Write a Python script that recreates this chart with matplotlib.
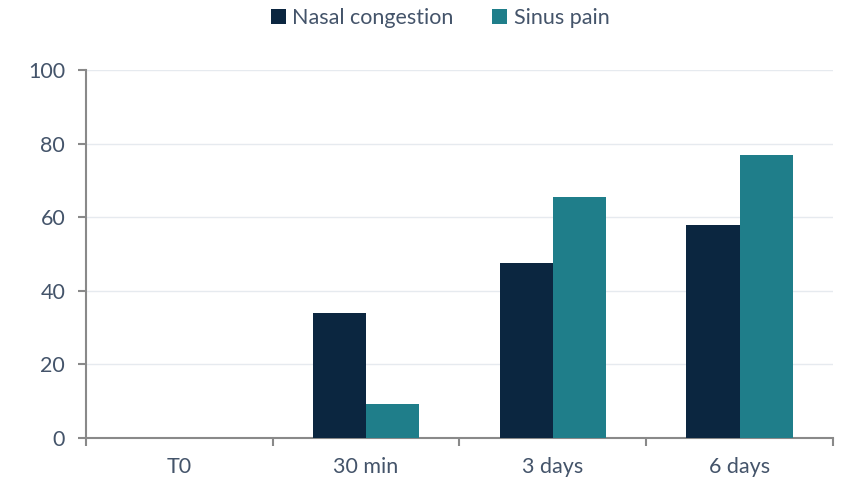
import numpy as np
import matplotlib.pyplot as plt

# datos
categorias = ['T0', '30 min', '3 days', '6 days']
nasal = [0, 34.0, 47.6, 57.9]
sinus = [0, 9.2, 65.5, 76.9]
series = ['Nasal congestion', 'Sinus pain']

color_nasal = '#0b2640'
color_sinus = '#1f7e8a'
color_texto = '#44546a'
color_eje = '#898989'

plt.rcParams['font.family'] = ['Lato', 'DejaVu Sans']

fig = plt.figure(figsize=(8.43, 4.8), dpi=100)
ax = fig.add_axes([0.102, 0.0875, 0.886, 0.7665])

x = np.arange(len(categorias))
ancho = 0.285
ax.bar(x - ancho / 2, nasal, ancho, color=color_nasal, label=series[0], zorder=3)
ax.bar(x + ancho / 2, sinus, ancho, color=color_sinus, label=series[1], zorder=3)

ax.set_xlim(-0.5, len(categorias) - 0.5)
ax.set_ylim(0, 100)
ax.set_yticks(np.arange(0, 101, 20))
ax.set_xticks(x)
ax.set_xticklabels(categorias)
ax.set_xticks(np.arange(-0.5, len(categorias), 1), minor=True)

ax.grid(axis='y', color='#e6eaef', linewidth=1, zorder=0)
for lado in ['top', 'right']:
    ax.spines[lado].set_visible(False)
for lado in ['left', 'bottom']:
    ax.spines[lado].set_color(color_eje)
    ax.spines[lado].set_linewidth(1.5)

ax.tick_params(axis='y', colors=color_eje, labelcolor=color_texto, labelsize=15.5, length=6, width=1.5, pad=9)
ax.tick_params(axis='x', which='major', length=0, labelcolor=color_texto, labelsize=15.5, pad=14)
ax.tick_params(axis='x', which='minor', length=6, width=1.5, colors=color_eje)

fig.legend(*ax.get_legend_handles_labels(), loc='center', bbox_to_anchor=(0.522, 0.963), ncol=2,
           frameon=False, fontsize=15.5, labelcolor=color_texto, handlelength=0.7, handleheight=0.7,
           handletextpad=0.3, columnspacing=1.8)

fig.savefig('out.png', dpi=100)
